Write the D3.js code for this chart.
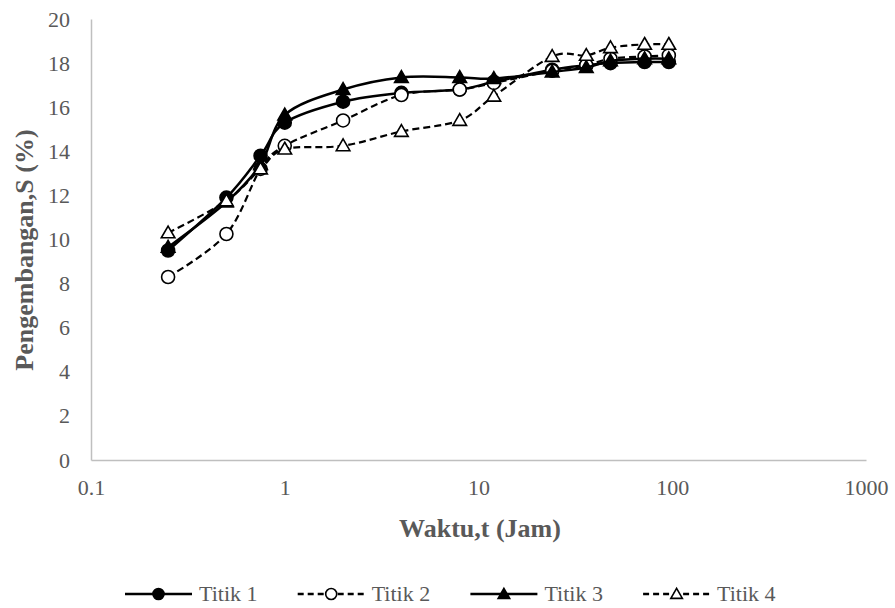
<!DOCTYPE html>
<html>
<head>
<meta charset="utf-8">
<script src="https://cdn.jsdelivr.net/npm/d3@7/dist/d3.min.js"></script>
<style>
  html, body { margin: 0; padding: 0; background: #fff; }
</style>
</head>
<body>
<svg id="chart" width="895" height="608" font-family="'Liberation Serif', 'Times New Roman', serif"></svg>
<script>
// Swelling test: elapsed time (hours) and swelling S (%) at four points
const waktu = [0.25, 0.5, 0.75, 1, 2, 4, 8, 12, 24, 36, 48, 72, 96];
const titik1 = [9.5, 11.9, 13.8, 15.3, 16.25, 16.65, 16.8, 17.15, 17.7, 17.9, 18.0, 18.05, 18.05];
const titik2 = [8.3, 10.25, 13.2, 14.25, 15.4, 16.55, 16.8, 17.1, 17.65, 17.9, 18.2, 18.3, 18.35];
const titik3 = [9.65, 11.7, 13.4, 15.65, 16.8, 17.35, 17.35, 17.3, 17.6, 17.8, 18.1, 18.2, 18.2];
const titik4 = [10.3, 11.75, 13.2, 14.1, 14.25, 14.9, 15.4, 16.5, 18.3, 18.35, 18.7, 18.85, 18.85];
const seriesNames = ["Titik 1", "Titik 2", "Titik 3", "Titik 4"];
const xTicks = [0.1, 1, 10, 100, 1000];
const yTicks = [0, 2, 4, 6, 8, 10, 12, 14, 16, 18, 20];

const FONT = "'Liberation Serif', 'Times New Roman', serif";
const GREY = "#595959";

const series = [
  { name: seriesNames[0], values: titik1, marker: "circle",   filled: true,  dashed: false },
  { name: seriesNames[1], values: titik2, marker: "circle",   filled: false, dashed: true },
  { name: seriesNames[2], values: titik3, marker: "triangle", filled: true,  dashed: false },
  { name: seriesNames[3], values: titik4, marker: "triangle", filled: false, dashed: true }
];

const svg = d3.select("#chart");
const plot = { left: 91, right: 866, top: 19, bottom: 460 };

const x = d3.scaleLog().domain([0.1, 1000]).range([plot.left, plot.right]);
const y = d3.scaleLinear().domain([0, 20]).range([plot.bottom, plot.top]);

// Axes: light grey lines, no tick marks
const xAxis = svg.append("g")
  .attr("transform", `translate(0,${plot.bottom})`)
  .call(d3.axisBottom(x).tickValues(xTicks).tickFormat(d => String(d)).tickSize(0).tickPadding(19));
const yAxis = svg.append("g")
  .attr("transform", `translate(${plot.left},0)`)
  .call(d3.axisLeft(y).tickValues(yTicks).tickFormat(d3.format("d")).tickSize(0).tickPadding(21));

[xAxis, yAxis].forEach(g => {
  g.attr("font-family", FONT).attr("font-size", 22);
  g.select(".domain").attr("stroke", "#bfbfbf").attr("stroke-width", 1.5);
  g.selectAll("text").attr("fill", GREY).attr("font-family", FONT).attr("font-size", 22);
});

// Axis titles
svg.append("text")
  .attr("x", 480)
  .attr("y", 537)
  .attr("text-anchor", "middle")
  .attr("font-family", FONT)
  .attr("font-size", 26).attr("font-weight", "bold")
  .attr("fill", GREY)
  .text("Waktu,t (Jam)");

svg.append("text")
  .attr("transform", `translate(33,250) rotate(-90)`)
  .attr("text-anchor", "middle")
  .attr("font-family", FONT)
  .attr("font-size", 26).attr("font-weight", "bold")
  .attr("fill", GREY)
  .text("Pengembangan,S (%)");

// Smoothed series lines
const line = d3.line()
  .x(d => x(d[0]))
  .y(d => y(d[1]))
  .curve(d3.curveCardinal.tension(0));

function drawMarker(g, s, cx, cy, scale) {
  if (s.marker === "circle") {
    g.append("circle").attr("cx", cx).attr("cy", cy).attr("r", 6.5 * scale)
      .attr("fill", s.filled ? "#000" : "#fff")
      .attr("stroke", "#000").attr("stroke-width", 1.6);
  } else {
    const tri = d3.symbol().type(d3.symbolTriangle).size(80 * scale * scale);
    g.append("path").attr("d", tri())
      .attr("transform", `translate(${cx},${cy + 1})`)
      .attr("fill", s.filled ? "#000" : "#fff")
      .attr("stroke", "#000").attr("stroke-width", 1.6);
  }
}

series.forEach(s => {
  const pts = waktu.map((t, i) => [t, s.values[i]]);
  const g = svg.append("g");
  g.append("path")
    .attr("d", line(pts))
    .attr("fill", "none")
    .attr("stroke", "#000")
    .attr("stroke-width", s.dashed ? 2.2 : 2.5)
    .attr("stroke-dasharray", s.dashed ? "7,4" : null);
  pts.forEach(p => drawMarker(g, s, x(p[0]), y(p[1]), 1));
});

// Legend
const legendY = 594;
series.forEach((s, i) => {
  const x0 = 125 + i * 172.7;
  const g = svg.append("g");
  g.append("line")
    .attr("x1", x0).attr("x2", x0 + 67)
    .attr("y1", legendY).attr("y2", legendY)
    .attr("stroke", "#000").attr("stroke-width", 2.5)
    .attr("stroke-dasharray", s.dashed ? "6,4" : null);
  drawMarker(g, s, x0 + 33.5, legendY, 0.85);
  g.append("text")
    .attr("x", x0 + 74).attr("y", legendY + 7)
    .attr("font-family", FONT)
    .attr("font-size", 22)
    .attr("fill", GREY)
    .text(s.name);
});
</script>
</body>
</html>
